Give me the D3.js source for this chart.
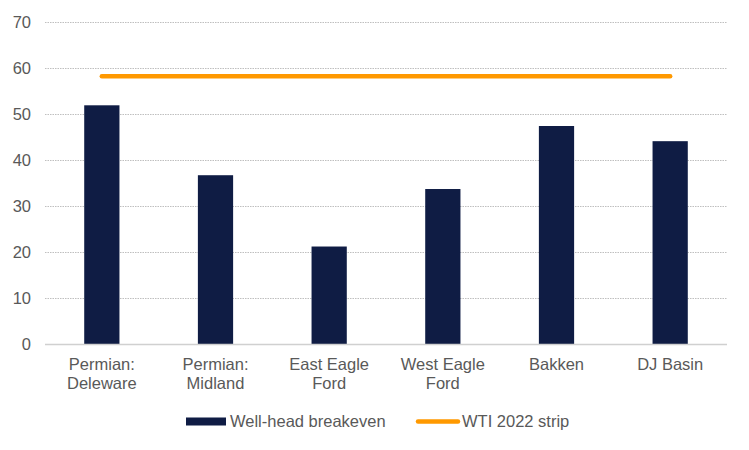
<!DOCTYPE html>
<html>
<head>
<meta charset="utf-8">
<script src="https://cdn.jsdelivr.net/npm/d3@7"></script>
<style>
  body { margin: 0; background: #fff; }
  svg { font-family: "Liberation Sans", Arial, sans-serif; }
</style>
</head>
<body>
<svg id="chart" width="749" height="450"></svg>
<script>
const categories = [["Permian:", "Deleware"], ["Permian:", "Midland"], ["East Eagle", "Ford"], ["West Eagle", "Ford"], ["Bakken"], ["DJ Basin"]];
const breakeven = [52.0, 36.8, 21.3, 33.8, 47.5, 44.2];
const wtiStrip = [58.3, 58.3, 58.3, 58.3, 58.3, 58.3];
const yTicks = [0, 10, 20, 30, 40, 50, 60, 70];

const margin = { top: 22.5, right: 22, bottom: 105.5, left: 45 };
const width = 749 - margin.left - margin.right;
const height = 450 - margin.top - margin.bottom;
const fs = 16.5;

const svg = d3.select("#chart");
const g = svg.append("g").attr("transform", `translate(${margin.left},${margin.top})`);

const keys = categories.map((c) => c.join(" "));

const x = d3.scaleBand().domain(keys).range([0, width]).paddingInner(0.69).paddingOuter(0.345);
const xc = d3.scalePoint().domain(keys).range([0, width]).padding(0.5);
const y = d3.scaleLinear().domain([0, 70]).range([height, 0]);

// gridlines
g.append("g")
  .selectAll("line")
  .data(yTicks.slice(1))
  .join("line")
  .attr("x1", 0)
  .attr("x2", width)
  .attr("y1", (d) => y(d))
  .attr("y2", (d) => y(d))
  .attr("stroke", "#bfbfbf")
  .attr("stroke-width", 1)
  .attr("stroke-dasharray", "1.5,1");

// y axis labels
const yAxis = d3.axisLeft(y).tickValues(yTicks).tickSize(0).tickPadding(14);
g.append("g")
  .call(yAxis)
  .call((s) => s.select(".domain").remove())
  .selectAll("text")
  .attr("fill", "#595959")
  .attr("font-size", fs)
  .attr("font-family", "Liberation Sans, Arial, sans-serif");

// bars
g.append("g")
  .attr("fill", "#0f1c44")
  .selectAll("rect")
  .data(breakeven)
  .join("rect")
  .attr("x", (d, i) => x(keys[i]))
  .attr("width", x.bandwidth())
  .attr("y", (d) => y(d))
  .attr("height", (d) => y(0) - y(d));

// baseline
g.append("line")
  .attr("x1", 0)
  .attr("x2", width)
  .attr("y1", y(0))
  .attr("y2", y(0))
  .attr("stroke", "#d0d0d0")
  .attr("stroke-width", 1.5);

// WTI line
const line = d3.line().x((d, i) => xc(keys[i])).y((d) => y(d));
g.append("path")
  .datum(wtiStrip)
  .attr("fill", "none")
  .attr("stroke", "#ff9900")
  .attr("stroke-width", 4.5)
  .attr("stroke-linecap", "round")
  .attr("d", line);

// category labels
const xl = g.append("g").attr("transform", `translate(0,${height})`);
categories.forEach((c, i) => {
  const t = xl.append("text")
    .attr("x", xc(keys[i]))
    .attr("y", 25)
    .attr("text-anchor", "middle")
    .attr("fill", "#595959")
    .attr("font-size", fs);
  c.forEach((line, j) => {
    t.append("tspan").attr("x", xc(keys[i])).attr("dy", j === 0 ? 0 : 19).text(line);
  });
});

// legend
const legend = svg.append("g").attr("font-size", fs).attr("fill", "#595959");
legend.append("rect").attr("x", 186).attr("y", 417.5).attr("width", 40).attr("height", 8).attr("fill", "#0f1c44");
legend.append("text").attr("x", 230).attr("y", 427).text("Well-head breakeven");
legend.append("line").attr("x1", 418).attr("x2", 458).attr("y1", 421.5).attr("y2", 421.5)
  .attr("stroke", "#ff9900").attr("stroke-width", 4.5).attr("stroke-linecap", "round");
legend.append("text").attr("x", 462).attr("y", 427).text("WTI 2022 strip");
</script>
</body>
</html>
